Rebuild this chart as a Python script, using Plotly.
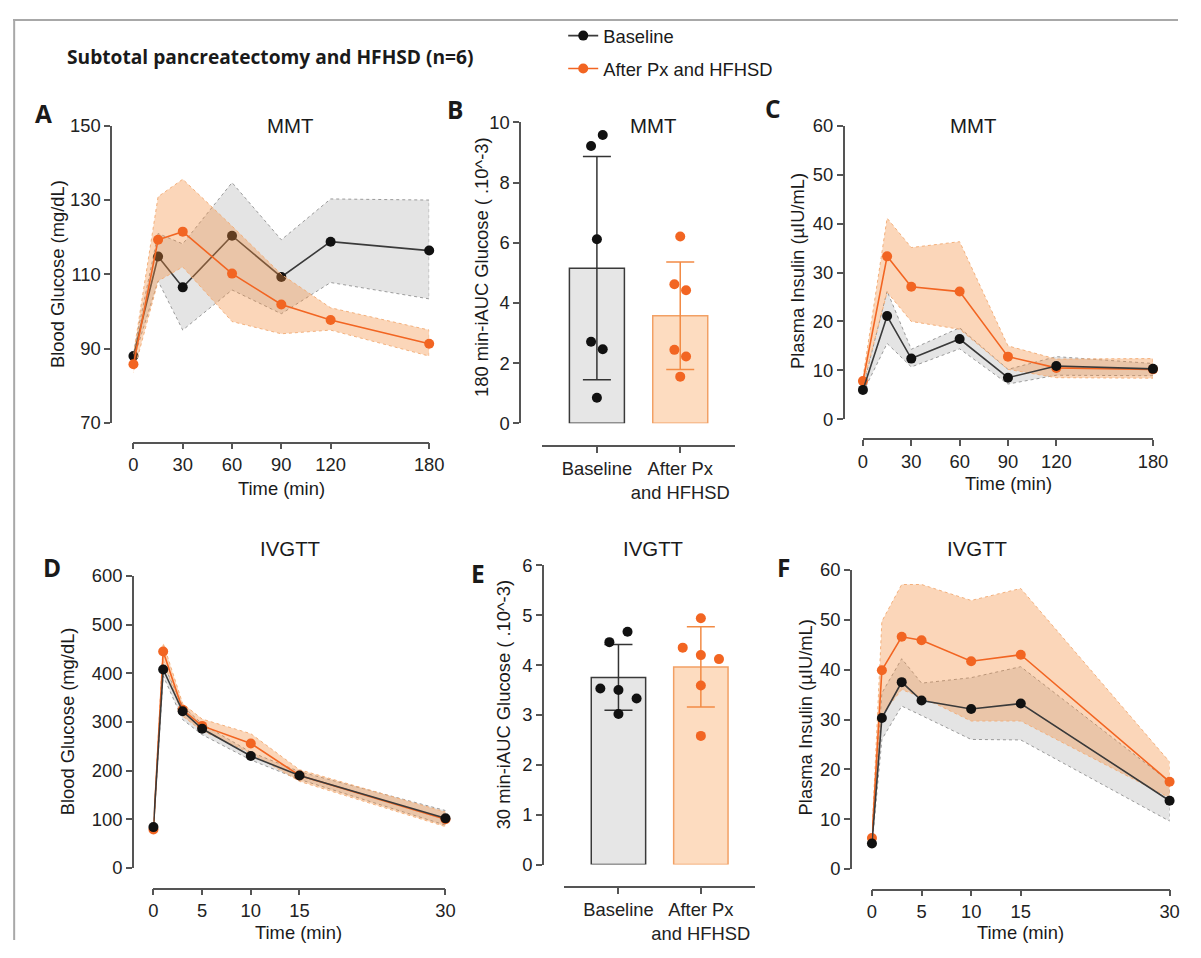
import plotly.graph_objects as go
import numpy as np

# Figure size; reference-picture pixel positions are mapped onto it by px()/py()
FW, FH = 1185, 942
SX, CX = 1.0173, -13.09   # figure x = SX * ref_x + CX
SY, CY = 1.0235, -18.75   # figure y = SY * ref_y + CY
K = 1.02                  # text size factor

# ---------------- data ----------------
mmt_time = [0, 15, 30, 60, 90, 120, 180]
ivgtt_time = [0, 1, 3, 5, 10, 15, 30]

# A: MMT blood glucose (mg/dL)
A_base = [88.0, 114.8, 106.5, 120.4, 109.3, 118.8, 116.4]
A_base_hi = [89.0, 121.0, 118.2, 134.7, 119.3, 130.3, 130.0]
A_base_lo = [87.0, 108.2, 95.0, 105.8, 99.4, 107.8, 103.4]
A_after = [85.8, 119.3, 121.5, 110.2, 101.9, 97.7, 91.3]
A_after_hi = [88.5, 130.9, 135.6, 123.0, 110.0, 101.0, 95.0]
A_after_lo = [83.5, 108.2, 112.0, 97.3, 94.0, 95.0, 88.0]

# B: MMT 180 min iAUC glucose (x10^-3)
B_base_pts = [9.58, 9.22, 6.12, 2.71, 2.46, 0.85]
B_after_pts = [6.21, 4.62, 4.42, 2.44, 2.22, 1.55]

# C: MMT plasma insulin (uIU/mL)
C_base = [6.0, 21.1, 12.4, 16.4, 8.5, 10.9, 10.3]
C_base_hi = [6.5, 26.2, 14.3, 18.7, 10.2, 12.8, 11.4]
C_base_lo = [5.5, 15.5, 10.7, 14.4, 7.2, 9.0, 8.9]
C_after = [7.8, 33.3, 27.1, 26.1, 12.8, 10.5, 10.2]
C_after_hi = [8.5, 41.1, 35.1, 36.3, 15.0, 12.3, 12.4]
C_after_lo = [7.0, 26.0, 20.0, 18.4, 10.2, 8.5, 8.4]

# D: IVGTT blood glucose (mg/dL)
D_base = [84, 408, 322, 286, 230, 190, 102]
D_base_hi = [88, 420, 333, 296, 238, 198, 118]
D_base_lo = [80, 395, 305, 274, 222, 182, 88]
D_after = [79, 445, 325, 292, 256, 190, 100]
D_after_hi = [83, 462, 338, 306, 276, 202, 115]
D_after_lo = [75, 428, 312, 282, 236, 178, 85]

# E: IVGTT 30 min iAUC glucose (x10^-3)
E_base_pts = [4.67, 4.46, 3.53, 3.50, 3.33, 3.02]
E_after_pts = [4.94, 4.35, 4.20, 4.12, 3.59, 2.58]

# F: IVGTT plasma insulin (uIU/mL)
F_base = [5.1, 30.3, 37.5, 33.8, 32.1, 33.2, 13.7]
F_base_hi = [5.6, 35.3, 42.2, 37.3, 38.4, 40.6, 17.5]
F_base_lo = [4.6, 26.0, 32.7, 30.8, 26.0, 25.9, 9.6]
F_after = [6.2, 39.9, 46.6, 45.9, 41.7, 43.0, 17.5]
F_after_hi = [6.8, 49.7, 57.1, 57.1, 53.9, 56.3, 21.5]
F_after_lo = [5.6, 31.0, 36.0, 34.5, 29.7, 29.7, 14.3]

groups = ["Baseline", "After Px<br>and HFHSD"]
legend_names = ["Baseline", "After Px and HFHSD"]

# dot scatter offsets within each bar (horizontal spread, category units)
B_base_jit = [0.07, -0.07, 0.0, -0.07, 0.07, 0.0]
B_after_jit = [0.0, -0.07, 0.07, -0.07, 0.07, 0.0]
E_base_jit = [0.11, -0.11, -0.22, 0.0, 0.22, 0.0]
E_after_jit = [0.0, -0.22, 0.0, 0.22, 0.0, 0.0]

# ---------------- style ----------------
BLACK = "#111111"
LINE_DARK = "#3a3a3a"
ORANGE = "#f26522"
GRAY_FILL = "rgba(120,120,120,0.20)"
ORANGE_FILL = "rgba(245,140,60,0.36)"
AXIS_COL = "#555555"
TXT = "#1a1a1a"
FONT = "Liberation Sans, Arial, sans-serif"
TICKFONT = dict(family=FONT, size=18 * K, color="#222222")


def px(p):
    return (SX * p + CX) / FW


def py(p):
    return 1 - (SY * p + CY) / FH


fig = go.Figure()


def band(xs, hi, lo, fill, edge, xa, ya):
    fig.add_trace(go.Scatter(
        x=list(xs) + list(xs)[::-1], y=list(hi) + list(lo)[::-1],
        fill="toself", fillcolor=fill, mode="lines",
        line=dict(color=edge, width=1, dash="dot"),
        hoverinfo="skip", showlegend=False, xaxis=xa, yaxis=ya))


def series(xs, ys, color, lcolor, xa, ya, name=None, legend=False, group=None):
    fig.add_trace(go.Scatter(
        x=xs, y=ys, mode="lines+markers", name=name, legendgroup=group,
        line=dict(color=lcolor, width=1.6),
        marker=dict(color=color, size=10),
        cliponaxis=False, showlegend=legend, xaxis=xa, yaxis=ya))


# Panel A (baseline under the orange band)
band(mmt_time, A_base_hi, A_base_lo, GRAY_FILL, "#9a9a9a", "x", "y")
series(mmt_time, A_base, BLACK, LINE_DARK, "x", "y", legend_names[0], True, "g1")
band(mmt_time, A_after_hi, A_after_lo, ORANGE_FILL, "#f3b07c", "x", "y")
series(mmt_time, A_after, ORANGE, ORANGE, "x", "y", legend_names[1], True, "g2")

# Panel C
band(mmt_time, C_base_hi, C_base_lo, GRAY_FILL, "#9a9a9a", "x3", "y3")
band(mmt_time, C_after_hi, C_after_lo, ORANGE_FILL, "#f3b07c", "x3", "y3")
series(mmt_time, C_after, ORANGE, ORANGE, "x3", "y3")
series(mmt_time, C_base, BLACK, LINE_DARK, "x3", "y3")

# Panel D
band(ivgtt_time, D_base_hi, D_base_lo, GRAY_FILL, "#9a9a9a", "x4", "y4")
band(ivgtt_time, D_after_hi, D_after_lo, ORANGE_FILL, "#f3b07c", "x4", "y4")
series(ivgtt_time, D_after, ORANGE, ORANGE, "x4", "y4")
series(ivgtt_time, D_base, BLACK, LINE_DARK, "x4", "y4")

# Panel F
band(ivgtt_time, F_base_hi, F_base_lo, GRAY_FILL, "#9a9a9a", "x6", "y6")
band(ivgtt_time, F_after_hi, F_after_lo, ORANGE_FILL, "#f3b07c", "x6", "y6")
series(ivgtt_time, F_after, ORANGE, ORANGE, "x6", "y6")
series(ivgtt_time, F_base, BLACK, LINE_DARK, "x6", "y6")


# Bar panels B and E (bar = mean, error bar = SD of the six animals)
def bars(base_pts, after_pts, base_jit, after_jit, xa, ya):
    stats = []
    for pts in (base_pts, after_pts):
        a = np.array(pts)
        stats.append((a.mean(), a.std(ddof=1)))
    fills = ["#e6e6e6", "#fddcc0"]
    edges = ["#3a3a3a", "#f2a064"]
    ecols = ["#333333", "#f28b45"]
    for i in range(2):
        fig.add_trace(go.Bar(
            x=[i], y=[stats[i][0]], width=0.66,
            marker=dict(color=fills[i], line=dict(color=edges[i], width=1.5)),
            error_y=dict(type="data", array=[stats[i][1]], color=ecols[i],
                         thickness=1.5, width=14),
            showlegend=False, hoverinfo="skip", xaxis=xa, yaxis=ya))
    for i, (pts, jit, col) in enumerate(((base_pts, base_jit, BLACK),
                                         (after_pts, after_jit, ORANGE))):
        fig.add_trace(go.Scatter(
            x=[i + j for j in jit], y=pts, mode="markers",
            marker=dict(color=col, size=10), cliponaxis=False,
            showlegend=False, xaxis=xa, yaxis=ya))


bars(B_base_pts, B_after_pts, B_base_jit, B_after_jit, "x2", "y2")
bars(E_base_pts, E_after_pts, E_base_jit, E_after_jit, "x5", "y5")


# ---------------- axes ----------------
def xax(x0, x1, yline, rng, tickvals, ticktext=None):
    d = dict(domain=[px(x0), px(x1)], range=rng, anchor="free", position=py(yline),
             showline=True, linecolor=AXIS_COL, linewidth=1.5, ticks="outside",
             ticklen=6, tickwidth=1.5, tickcolor=AXIS_COL, showgrid=False,
             zeroline=False, tickfont=TICKFONT, tickvals=tickvals, tickangle=0,
             fixedrange=True)
    if ticktext is not None:
        d["ticktext"] = ticktext
    return d


def yax(top, bottom, xline, rng, tickvals):
    return dict(domain=[py(bottom), py(top)], range=rng, anchor="free", position=px(xline),
                showline=True, linecolor=AXIS_COL, linewidth=1.5, ticks="outside",
                ticklen=6, tickwidth=1.5, tickcolor=AXIS_COL, showgrid=False,
                zeroline=False, tickfont=TICKFONT, tickvals=tickvals, fixedrange=True)


mmt_ticks = [0, 30, 60, 90, 120, 180]
iv_ticks = [0, 5, 10, 15, 30]

fig.update_layout(
    xaxis=xax(133.3, 429, 441.7, [0, 180], mmt_ticks),
    yaxis=yax(125, 422, 111, [70, 150], [70, 90, 110, 130, 150]),
    xaxis2=xax(541.7, 735, 445, [-0.66, 1.66], [0, 1], groups),
    yaxis2=yax(121.7, 422.3, 520, [0, 10], [0, 2, 4, 6, 8, 10]),
    xaxis3=xax(862.7, 1152.7, 438.3, [0, 180], mmt_ticks),
    yaxis3=yax(125, 418.3, 843.3, [0, 60], [0, 10, 20, 30, 40, 50, 60]),
    xaxis4=xax(153.3, 445.3, 887.3, [0, 30], iv_ticks),
    yaxis4=yax(575, 866.7, 132.7, [0, 600], [0, 100, 200, 300, 400, 500, 600]),
    xaxis5=xax(563.3, 755, 885.7, [-0.667, 1.66], [0, 1], groups),
    yaxis5=yax(564.3, 863.3, 542.7, [0, 6], [0, 1, 2, 3, 4, 5, 6]),
    xaxis6=xax(871.7, 1169.3, 888.3, [0, 30], iv_ticks),
    yaxis6=yax(569, 867.7, 850.7, [0, 60], [0, 10, 20, 30, 40, 50, 60]),
)

# ---------------- text ----------------
ann = []


def text(x, y, s, size=18, bold=False, angle=0, family=FONT, xanchor="center"):
    ann.append(dict(x=px(x), y=py(y), xref="paper", yref="paper", text=f"<b>{s}</b>" if bold else s,
                    showarrow=False, xanchor=xanchor, yanchor="middle", textangle=angle,
                    font=dict(family=family, size=size * K, color=TXT)))


HEAD_FONT = "Open Sans, Noto Sans, sans-serif"
text(270, 56, "Subtotal pancreatectomy and HFHSD (n=6)", size=18.8, bold=True, family=HEAD_FONT)

for (x, y, s) in [(43, 113, "A"), (455, 109, "B"), (773, 108, "C"),
                  (52, 566, "D"), (478, 572, "E"), (783, 566, "F")]:
    text(x, y, s, size=24, bold=True, family=HEAD_FONT)

for (x, y, s) in [(290, 125, "MMT"), (653, 125, "MMT"), (973, 125, "MMT"),
                  (290, 548, "IVGTT"), (653, 548, "IVGTT"), (977, 548, "IVGTT")]:
    text(x, y, s, size=20)

# y titles
text(58, 273, "Blood Glucose (mg/dL)", angle=-90)
text(482, 266, "180 min-iAUC Glucose ( .10^-3)", angle=-90)
text(798, 270, "Plasma Insulin (µIU/mL)", angle=-90)
text(67, 720, "Blood Glucose (mg/dL)", angle=-90)
text(503, 704, "30 min-iAUC Glucose ( .10^-3)", angle=-90)
text(805, 716, "Plasma Insulin (µIU/mL)", angle=-90)

# x titles
text(281, 487, "Time (min)")
text(1008, 483, "Time (min)")
text(298, 931, "Time (min)")
text(1020, 931, "Time (min)")

# thin page frame (top, left)
shapes = [
    dict(type="line", xref="paper", yref="paper", x0=0, x1=1, y0=0.999, y1=0.999,
         line=dict(color="#a8a8a8", width=2)),
    dict(type="line", xref="paper", yref="paper", x0=0.001, x1=0.001, y0=0, y1=1,
         line=dict(color="#a8a8a8", width=2)),
]

fig.update_layout(
    width=FW, height=FH, margin=dict(l=0, r=0, t=0, b=0),
    paper_bgcolor="white", plot_bgcolor="rgba(0,0,0,0)",
    annotations=ann, shapes=shapes,
    showlegend=True,
    legend=dict(x=px(563), y=py(16.5), xanchor="left", yanchor="top",
                font=dict(family=FONT, size=18 * K, color=TXT),
                bgcolor="rgba(0,0,0,0)", tracegroupgap=6, itemwidth=30),
    barmode="overlay",
)

fig.write_html("out.html")
